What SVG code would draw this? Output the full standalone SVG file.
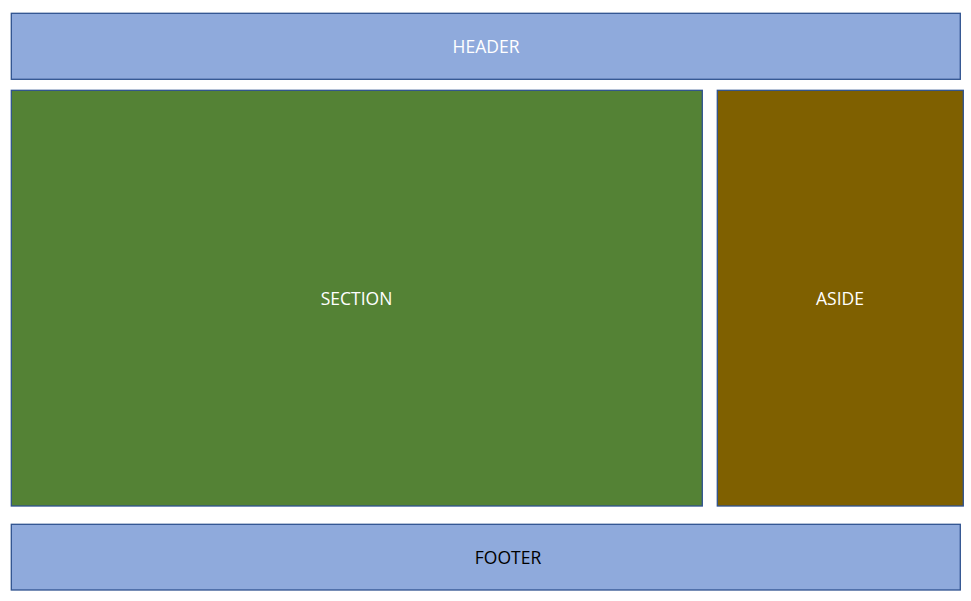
<svg xmlns="http://www.w3.org/2000/svg" width="971" height="601" viewBox="0 0 971 601">
<style>
.box{stroke:#2F528F;stroke-width:1.3}
.lbl{font-family:"Open Sans","Liberation Sans",sans-serif;font-size:17.5px;text-anchor:middle;dominant-baseline:central}
</style>
<rect width="971" height="601" fill="#fff"/>
<g id="header"><rect class="box" x="11.3" y="13.3" width="949" height="66" fill="#8FAADC"/><text class="lbl" x="486" y="46" fill="#fff">HEADER</text></g>
<g id="section"><rect class="box" x="11.3" y="90.3" width="691" height="415.7" fill="#548235"/><text class="lbl" x="356.5" y="298" fill="#fff">SECTION</text></g>
<g id="aside"><rect class="box" x="717.3" y="90.3" width="246" height="415.7" fill="#7F6000"/><text class="lbl" x="840" y="298" fill="#fff">ASIDE</text></g>
<g id="footer"><rect class="box" x="11.3" y="524.3" width="949" height="65.7" fill="#8FAADC"/><text class="lbl" x="508" y="557" fill="#000">FOOTER</text></g>
<g id="connectors"/>
</svg>
